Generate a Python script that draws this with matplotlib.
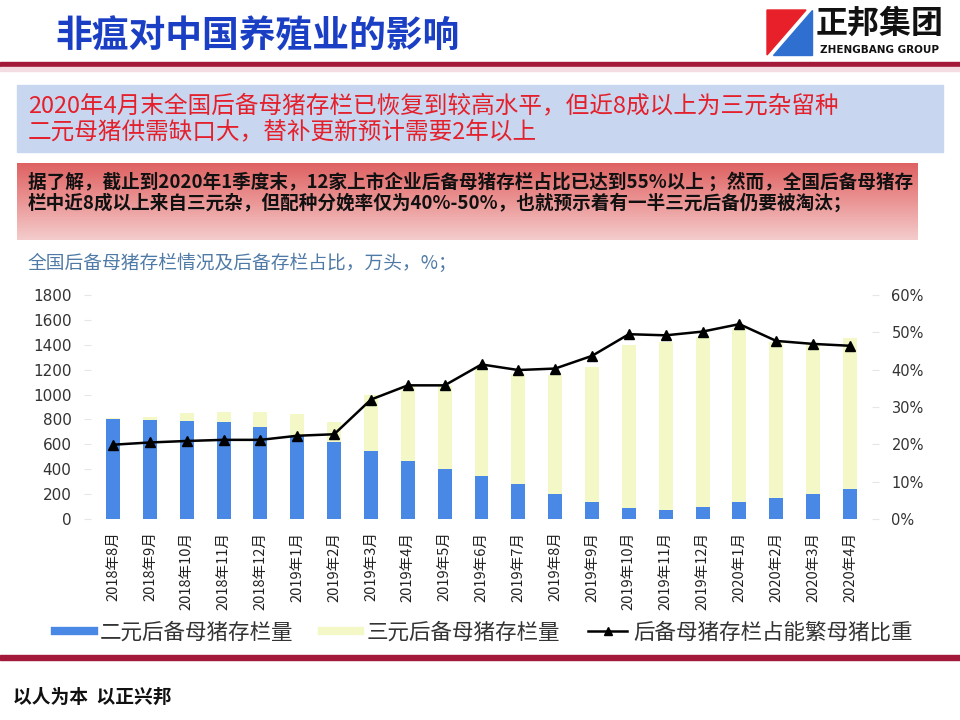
import numpy as np
import matplotlib
matplotlib.use("Agg")
import matplotlib.pyplot as plt
from matplotlib.colors import LinearSegmentedColormap
from matplotlib.lines import Line2D
from matplotlib.patches import Rectangle, Polygon
from matplotlib.ticker import FuncFormatter

plt.rcParams['font.family'] = ['Noto Sans CJK SC', 'DejaVu Sans']

months = ['2018年8月', '2018年9月', '2018年10月', '2018年11月', '2018年12月',
          '2019年1月', '2019年2月', '2019年3月', '2019年4月', '2019年5月',
          '2019年6月', '2019年7月', '2019年8月', '2019年9月', '2019年10月',
          '2019年11月', '2019年12月', '2020年1月', '2020年2月', '2020年3月',
          '2020年4月']
# 二元后备母猪存栏量 (万头)
eryuan = [805, 795, 788, 778, 743, 670, 615, 548, 470, 403,
          345, 280, 200, 134, 92, 76, 99, 134, 171, 203, 243]
# 后备母猪总存栏 (万头)
total = [810, 820, 852, 858, 858, 842, 782, 1000, 1068, 1068,
         1210, 1168, 1160, 1225, 1398, 1420, 1465, 1535, 1425, 1400, 1452]
sanyuan = [t - e for t, e in zip(total, eryuan)]
# 后备母猪存栏占能繁母猪比重 (%)
ratio = [19.9, 20.5, 20.9, 21.2, 21.2, 22.3, 22.7, 32.0, 35.8, 35.8,
         41.4, 39.9, 40.3, 43.7, 49.5, 49.2, 50.2, 52.2, 47.7, 46.9, 46.4]

labels = ['二元后备母猪存栏量', '三元后备母猪存栏量', '后备母猪存栏占能繁母猪比重']

title = '非瘟对中国养殖业的影响'
box1 = ['2020年4月末全国后备母猪存栏已恢复到较高水平，但近8成以上为三元杂留种',
        '二元母猪供需缺口大，替补更新预计需要2年以上']
box2 = ['据了解，截止到2020年1季度末，12家上市企业后备母猪存栏占比已达到55%以上 ；然而，全国后备母猪存',
        '栏中近8成以上来自三元杂，但配种分娩率仅为40%-50%，也就预示着有一半三元后备仍要被淘汰；']
subtitle = '全国后备母猪存栏情况及后备存栏占比，万头，%；'
footer = '以人为本  以正兴邦'

blue = '#4a88e6'
yellow = '#f3f8c6'
crimson = '#a3193a'

W, H = 960, 720
fig = plt.figure(figsize=(9.6, 7.2), dpi=100)


def fx(px):
    return px / W


def fy(py):
    return 1 - py / H


# header
fig.text(fx(55), fy(37), title, fontsize=26.5, fontweight='heavy', color='#1b3fc4',
         va='center', ha='left')
fig.patches.append(Rectangle((0, fy(67)), 1, (67 - 62) / H, transform=fig.transFigure,
                             color=crimson, zorder=1))
fig.patches.append(Rectangle((0, fy(71)), 1, 4 / H, transform=fig.transFigure,
                             color='#f3dde2', zorder=1))

# logo
red_tri = [(fx(767), fy(10)), (fx(806), fy(10)), (fx(767), fy(55))]
blue_tri = [(fx(812), fy(10)), (fx(812), fy(55)), (fx(773), fy(55))]
fig.patches.append(Polygon(red_tri, closed=True, transform=fig.transFigure, color='#e8202a'))
fig.patches.append(Polygon(blue_tri, closed=True, transform=fig.transFigure, color='#2f6fd0'))
fig.text(fx(880), fy(24), '正邦集团', fontsize=23, fontweight='heavy', color='#111111',
         ha='center', va='center')
fig.text(fx(880), fy(50), 'ZHENGBANG GROUP', fontsize=7.5, fontweight='bold',
         color='#111111', ha='center', va='center', family='DejaVu Sans Condensed')

# light blue box
fig.patches.append(Rectangle((fx(17), fy(152)), fx(943 - 17), (152 - 85) / H,
                             transform=fig.transFigure, color='#c8d7ef', zorder=0))
fig.text(fx(28), fy(106), box1[0], fontsize=17, color='#e3202c', va='center', ha='left')
fig.text(fx(28), fy(132), box1[1], fontsize=17, color='#e3202c', va='center', ha='left')

# red gradient box
gax = fig.add_axes([fx(17), fy(240), fx(918 - 17), (240 - 163) / H])
grad = LinearSegmentedColormap.from_list('g', ['#df6262', '#eb9595', '#f4cccc'])
gax.imshow(np.linspace(0, 1, 100).reshape(-1, 1), aspect='auto', cmap=grad,
           extent=[0, 1, 0, 1], origin='upper')
gax.set_axis_off()
fig.text(fx(28), fy(182), box2[0], fontsize=13.4, fontweight='bold', color='#111111',
         va='center', ha='left')
fig.text(fx(28), fy(203), box2[1], fontsize=13.4, fontweight='bold', color='#111111',
         va='center', ha='left')

fig.text(fx(28), fy(263), subtitle, fontsize=13.5, color='#4f7aa6', va='center', ha='left')

# chart
ax = fig.add_axes([fx(91), fy(519), fx(872 - 91), (519 - 295) / H])
x = np.arange(len(months))
ax.bar(x, eryuan, width=0.38, color=blue, zorder=2)
ax.bar(x, sanyuan, width=0.38, bottom=eryuan, color=yellow, zorder=2)
ax.set_xlim(-0.6, len(months) - 0.4)
ax.set_ylim(0, 1800)
ax.set_yticks(range(0, 1801, 200))
ax.set_xticks(x)
ax.set_xticklabels(months, rotation=90, fontsize=10.5, color='#222222')
ax.tick_params(axis='x', length=0, pad=9)
ax.tick_params(axis='y', length=5, color='#e6e6e6', labelsize=11, labelcolor='#333333', pad=9)
for lab in ax.get_yticklabels():
    lab.set_family('DejaVu Sans')
for s in ax.spines.values():
    s.set_visible(False)

ax2 = ax.twinx()
ax2.plot(x, ratio, color='black', lw=1.8, marker='^', markersize=7, zorder=3)
ax2.set_ylim(0, 60)
ax2.set_yticks(range(0, 61, 10))
ax2.yaxis.set_major_formatter(FuncFormatter(lambda v, p: f'{v:.0f}%'))
ax2.tick_params(axis='y', length=5, color='#e6e6e6', labelsize=10.5, labelcolor='#333333', pad=9)
for lab in ax2.get_yticklabels():
    lab.set_family('DejaVu Sans')
for s in ax2.spines.values():
    s.set_visible(False)

handles = [Line2D([], [], color=blue, lw=6),
           Line2D([], [], color=yellow, lw=6),
           Line2D([], [], color='black', lw=1.8, marker='^', markersize=6)]
fig.legend(handles, labels, loc='center', bbox_to_anchor=(fx(484), fy(633)), ncol=3,
           frameon=False, fontsize=15.5, handlelength=1.8, handletextpad=0.3,
           columnspacing=1.3, labelcolor='#333333')

# footer
fig.patches.append(Rectangle((0, fy(660)), 1, 5 / H, transform=fig.transFigure,
                             color=crimson, zorder=1))
fig.text(fx(13), fy(697), footer, fontsize=13.5, fontweight='bold', color='#111111',
         va='center', ha='left')

fig.savefig('out.png', dpi=100)
